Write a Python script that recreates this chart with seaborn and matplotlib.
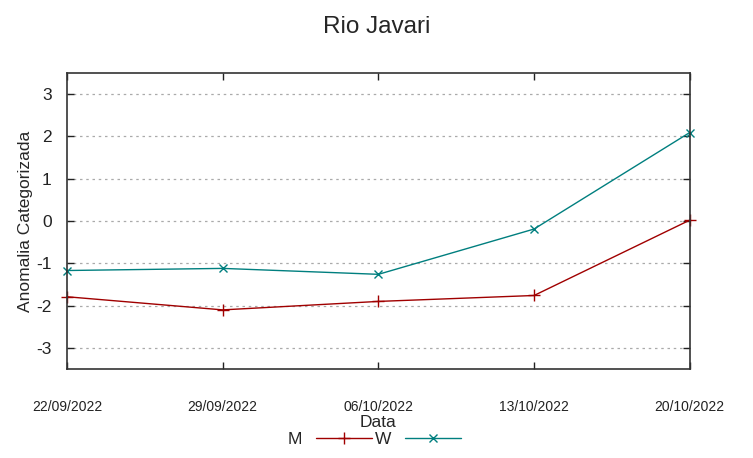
import pandas as pd
import seaborn as sns
import matplotlib.pyplot as plt

sns.set_theme(style="white")
plt.rcParams['font.family'] = ['Liberation Sans', 'DejaVu Sans']
plt.rcParams['axes.unicode_minus'] = False

datas = ["22/09/2022", "29/09/2022", "06/10/2022", "13/10/2022", "20/10/2022"]
m_vals = [-1.79, -2.10, -1.90, -1.76, 0.02]
w_vals = [-1.17, -1.12, -1.26, -0.19, 2.09]

df = pd.DataFrame({"pos": list(range(len(datas))) * 2,
                   "valor": m_vals + w_vals,
                   "serie": ["M"] * len(datas) + ["W"] * len(datas)})

fig = plt.figure(figsize=(7.53, 4.58), dpi=100)
ax = fig.add_axes([0.089, 0.194, 0.827, 0.647])

sns.lineplot(data=df[df["serie"] == "M"], x="pos", y="valor", ax=ax, color="#a00000",
             marker="+", markersize=9, markeredgewidth=1.0, markeredgecolor="#a00000",
             linewidth=1.0, label="M", clip_on=False)
sns.lineplot(data=df[df["serie"] == "W"], x="pos", y="valor", ax=ax, color="#007f7f",
             marker="x", markersize=6, markeredgewidth=1.0, markeredgecolor="#007f7f",
             linewidth=1.0, label="W", clip_on=False)

ax.set_xlim(0, len(datas) - 1)
ax.set_ylim(-3.5, 3.5)
ax.set_yticks([-3, -2, -1, 0, 1, 2, 3])
ax.set_xticks(range(len(datas)))
ax.set_xticklabels(datas, fontsize=10)
ax.tick_params(axis="y", labelsize=12.5, direction="in", length=5, width=1, pad=11,
               right=True, left=True, colors="#222222")
ax.tick_params(axis="x", direction="in", length=5, width=1, pad=22,
               top=True, bottom=True, colors="#222222")
ax.grid(axis="y", linestyle=(0, (2, 3)), color="#aaaaaa", linewidth=0.9)
for s in ax.spines.values():
    s.set_color("#333333")
    s.set_linewidth(1.2)

ax.set_xlabel("Data", fontsize=12.5, labelpad=1)
ax.set_ylabel("Anomalia Categorizada", fontsize=12.5, labelpad=2)
fig.suptitle("Rio Javari", fontsize=17.5, y=0.965)

ax.get_legend().remove()
h, l = ax.get_legend_handles_labels()
fig.legend(h, l, loc="center", bbox_to_anchor=(0.497, 0.04), ncol=2, frameon=False,
           markerfirst=False, fontsize=12.5, handlelength=3.2, columnspacing=0.2,
           handletextpad=0.8)

fig.savefig("out.png", dpi=100)
